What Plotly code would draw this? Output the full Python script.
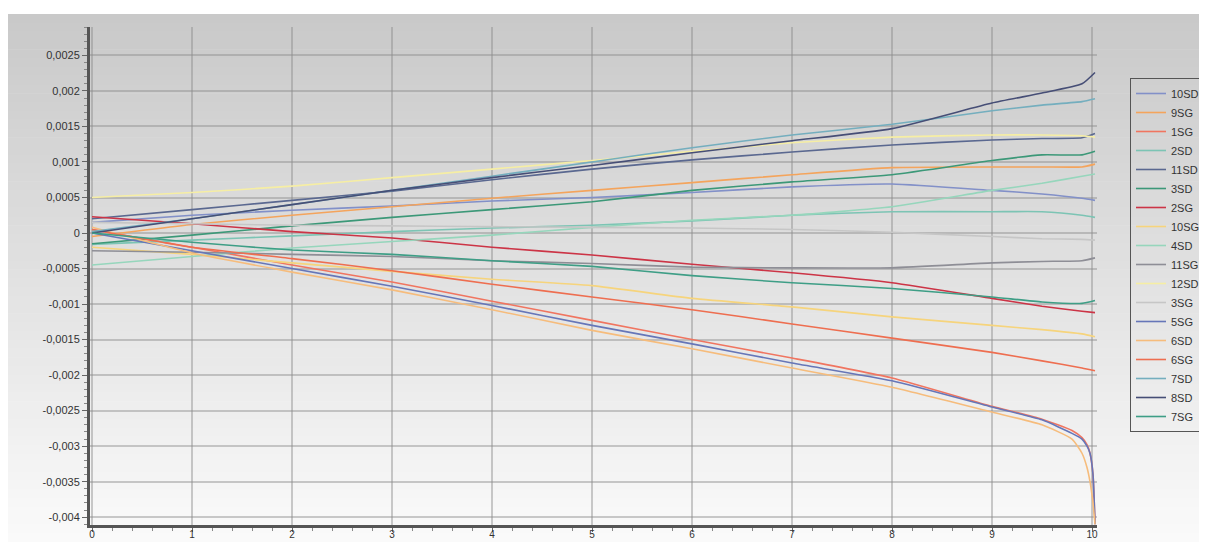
import plotly.graph_objects as go

# x positions of the samples
x_steps = [0, 1, 2, 3, 4, 5, 6, 7, 8, 9, 9.5, 9.9, 10.03]
x_dive = [0, 1, 2, 3, 4, 5, 6, 7, 8, 9, 9.5, 9.8, 9.9, 9.95, 9.98, 10.01, 10.03]

# series values
s_10SD = [0.00015, 0.00025, 0.00032, 0.00038, 0.00045, 0.0005, 0.00057, 0.00065, 0.00069, 0.0006, 0.00055, 0.00049, 0.00046]
s_9SG = [-0.00005, 0.00012, 0.00025, 0.00037, 0.00049, 0.0006, 0.00071, 0.00082, 0.00092, 0.00093, 0.00093, 0.00093, 0.00097]
s_1SG = [0.00005, -0.0002, -0.00045, -0.00069, -0.00096, -0.00123, -0.0015, -0.00176, -0.00204, -0.00244, -0.00262, -0.00278, -0.00288, -0.00298, -0.0031, -0.0034, -0.0041]
s_2SD = [-0.00016, -0.0001, -0.00004, 0.00002, 0.00007, 0.00011, 0.00017, 0.00025, 0.0003, 0.0003, 0.0003, 0.00025, 0.00022]
s_11SD = [0.0002, 0.00033, 0.00046, 0.00059, 0.00075, 0.0009, 0.00103, 0.00114, 0.00124, 0.00131, 0.00133, 0.00134, 0.0014]
s_3SD = [-0.00015, -0.00003, 0.0001, 0.00022, 0.00033, 0.00044, 0.0006, 0.00072, 0.00082, 0.00102, 0.0011, 0.0011, 0.00115]
s_2SG = [0.00023, 0.00013, 0.00002, -0.00007, -0.0002, -0.00031, -0.00044, -0.00056, -0.0007, -0.00092, -0.00103, -0.0011, -0.00112]
s_10SG = [-0.0002, -0.0003, -0.00042, -0.00054, -0.00065, -0.00074, -0.00092, -0.00104, -0.00118, -0.0013, -0.00136, -0.00142, -0.00146]
s_4SD = [-0.00045, -0.00033, -0.00021, -0.00012, -0.00003, 0.00008, 0.00018, 0.00025, 0.00037, 0.0006, 0.0007, 0.0008, 0.00083]
s_11SG = [-0.00025, -0.00027, -0.0003, -0.00033, -0.00039, -0.00043, -0.00048, -0.00049, -0.00049, -0.00042, -0.0004, -0.00039, -0.00035]
s_12SD = [0.0005, 0.00057, 0.00066, 0.00078, 0.0009, 0.00102, 0.00115, 0.00127, 0.00135, 0.00138, 0.00138, 0.00137, 0.00135]
s_3SG = [0.00015, 0.00013, 0.00011, 0.0001, 0.00009, 0.00008, 0.00007, 0.00005, 0.00001, -0.00005, -0.00008, -0.00009, -0.0001]
s_5SG = [0, -0.00025, -0.0005, -0.00075, -0.00102, -0.0013, -0.00156, -0.00183, -0.00208, -0.00245, -0.00263, -0.00282, -0.0029, -0.003, -0.0031, -0.0034, -0.0041]
s_6SD = [0.00008, -0.00028, -0.00055, -0.0008, -0.00108, -0.00137, -0.00163, -0.0019, -0.00217, -0.00252, -0.0027, -0.0029, -0.0031, -0.0033, -0.0035, -0.0038, -0.0041]
s_6SG = [0.00005, -0.0002, -0.00036, -0.00053, -0.00072, -0.0009, -0.00108, -0.00128, -0.00148, -0.00168, -0.0018, -0.0019, -0.00194]
s_7SD = [0.00002, 0.0002, 0.0004, 0.0006, 0.0008, 0.001, 0.0012, 0.00138, 0.00153, 0.00172, 0.0018, 0.00185, 0.00189]
s_8SD = [0, 0.0002, 0.0004, 0.0006, 0.00078, 0.00095, 0.00113, 0.0013, 0.00147, 0.00183, 0.00197, 0.0021, 0.00226]
s_7SG = [0.0, -0.00013, -0.00024, -0.0003, -0.00039, -0.00047, -0.0006, -0.0007, -0.00078, -0.0009, -0.00097, -0.00099, -0.00095]

series = [
    ("10SD", x_steps, s_10SD, "#8290c8"),
    ("9SG", x_steps, s_9SG, "#f4a45c"),
    ("1SG", x_dive, s_1SG, "#f07560"),
    ("2SD", x_steps, s_2SD, "#7cc4b4"),
    ("11SD", x_steps, s_11SD, "#5a6890"),
    ("3SD", x_steps, s_3SD, "#3c9878"),
    ("2SG", x_steps, s_2SG, "#cc3446"),
    ("10SG", x_steps, s_10SG, "#f6d47c"),
    ("4SD", x_steps, s_4SD, "#96d6bc"),
    ("11SG", x_steps, s_11SG, "#8e8e96"),
    ("12SD", x_steps, s_12SD, "#f6eea4"),
    ("3SG", x_steps, s_3SG, "#c6c6c6"),
    ("5SG", x_dive, s_5SG, "#6676b8"),
    ("6SD", x_dive, s_6SD, "#f6bc7c"),
    ("6SG", x_steps, s_6SG, "#ee6e50"),
    ("7SD", x_steps, s_7SD, "#74aebe"),
    ("8SD", x_steps, s_8SD, "#464e76"),
    ("7SG", x_steps, s_7SG, "#3e9e86"),
]

y_tickvals = [-0.004, -0.0035, -0.003, -0.0025, -0.002, -0.0015, -0.001, -0.0005, 0,
              0.0005, 0.001, 0.0015, 0.002, 0.0025]
y_ticktext = ["-0,004", "-0,0035", "-0,003", "-0,0025", "-0,002", "-0,0015", "-0,001", "-0,0005", "0",
              "0,0005", "0,001", "0,0015", "0,002", "0,0025"]
x_tickvals = [0, 1, 2, 3, 4, 5, 6, 7, 8, 9, 10]

# the page puts the figure 8px in from the top-left corner
OFF = 8
W, H = 1207 - OFF, 542 - OFF
ML, MR, MT, MB = 90 - OFF, 110, 27 - OFF, 17

fig = go.Figure()
for name, xs, ys, col in series:
    fig.add_trace(go.Scatter(x=xs, y=ys, mode="lines", name=name,
                             line=dict(color=col, width=1.6, shape="spline", smoothing=0.5)))

# grey gradient behind the plot, built from thin bands
pw, ph = W - ML - MR, H - MT - MB
def px_x(p):
    return (p - OFF - ML) / pw
def px_y(p):
    return (H - MB - (p - OFF)) / ph

shapes = []
n = 60
top, bottom = 14, 542
for i in range(n):
    y0 = top + (bottom - top) * i / n
    y1 = top + (bottom - top) * (i + 1) / n + 0.5
    g = int(round(201 + (250 - 201) * i / (n - 1)))
    shapes.append(dict(type="rect", xref="paper", yref="paper",
                       x0=px_x(8), x1=px_x(1207), y0=px_y(y1), y1=px_y(y0),
                       fillcolor="rgb(%d,%d,%d)" % (g, g, g), line=dict(width=0),
                       layer="below"))

fig.update_layout(
    width=W, height=H,
    margin=dict(l=ML, r=MR, t=MT, b=MB, autoexpand=False),
    paper_bgcolor="white",
    plot_bgcolor="rgba(0,0,0,0)",
    shapes=shapes,
    font=dict(family="Liberation Sans, Arial", size=11, color="#333333"),
    showlegend=True,
    legend=dict(x=px_x(1130), y=px_y(78), xanchor="left", yanchor="top",
                bgcolor="rgba(0,0,0,0)", bordercolor="#555555", borderwidth=1,
                font=dict(size=11, color="#333333"), itemwidth=30,
                tracegroupgap=0),
)
fig.update_xaxes(range=[-0.02, 10.05], tickvals=x_tickvals, ticks="outside", ticklen=4,
                 tickcolor="#666666", showline=True, linecolor="#555555", linewidth=3,
                 showgrid=True, gridcolor="rgba(140,140,140,0.45)", gridwidth=1.5,
                 zeroline=False, automargin=False, ticklabelstandoff=-6,
                 tickfont=dict(size=10),
                 minor=dict(ticks="outside", dtick=0.2, ticklen=3, tickcolor="#888888",
                            showgrid=False))
fig.update_yaxes(range=[-0.00411, 0.0029], tickvals=y_tickvals, ticktext=y_ticktext,
                 ticks="outside", ticklen=5, tickcolor="#666666",
                 showline=True, linecolor="#555555", linewidth=3,
                 showgrid=True, gridcolor="rgba(140,140,140,0.45)", gridwidth=1.5,
                 zeroline=False, automargin=False,
                 minor=dict(ticks="outside", dtick=0.0001, ticklen=3, tickcolor="#888888",
                            showgrid=False))

fig.write_html("out.html")
